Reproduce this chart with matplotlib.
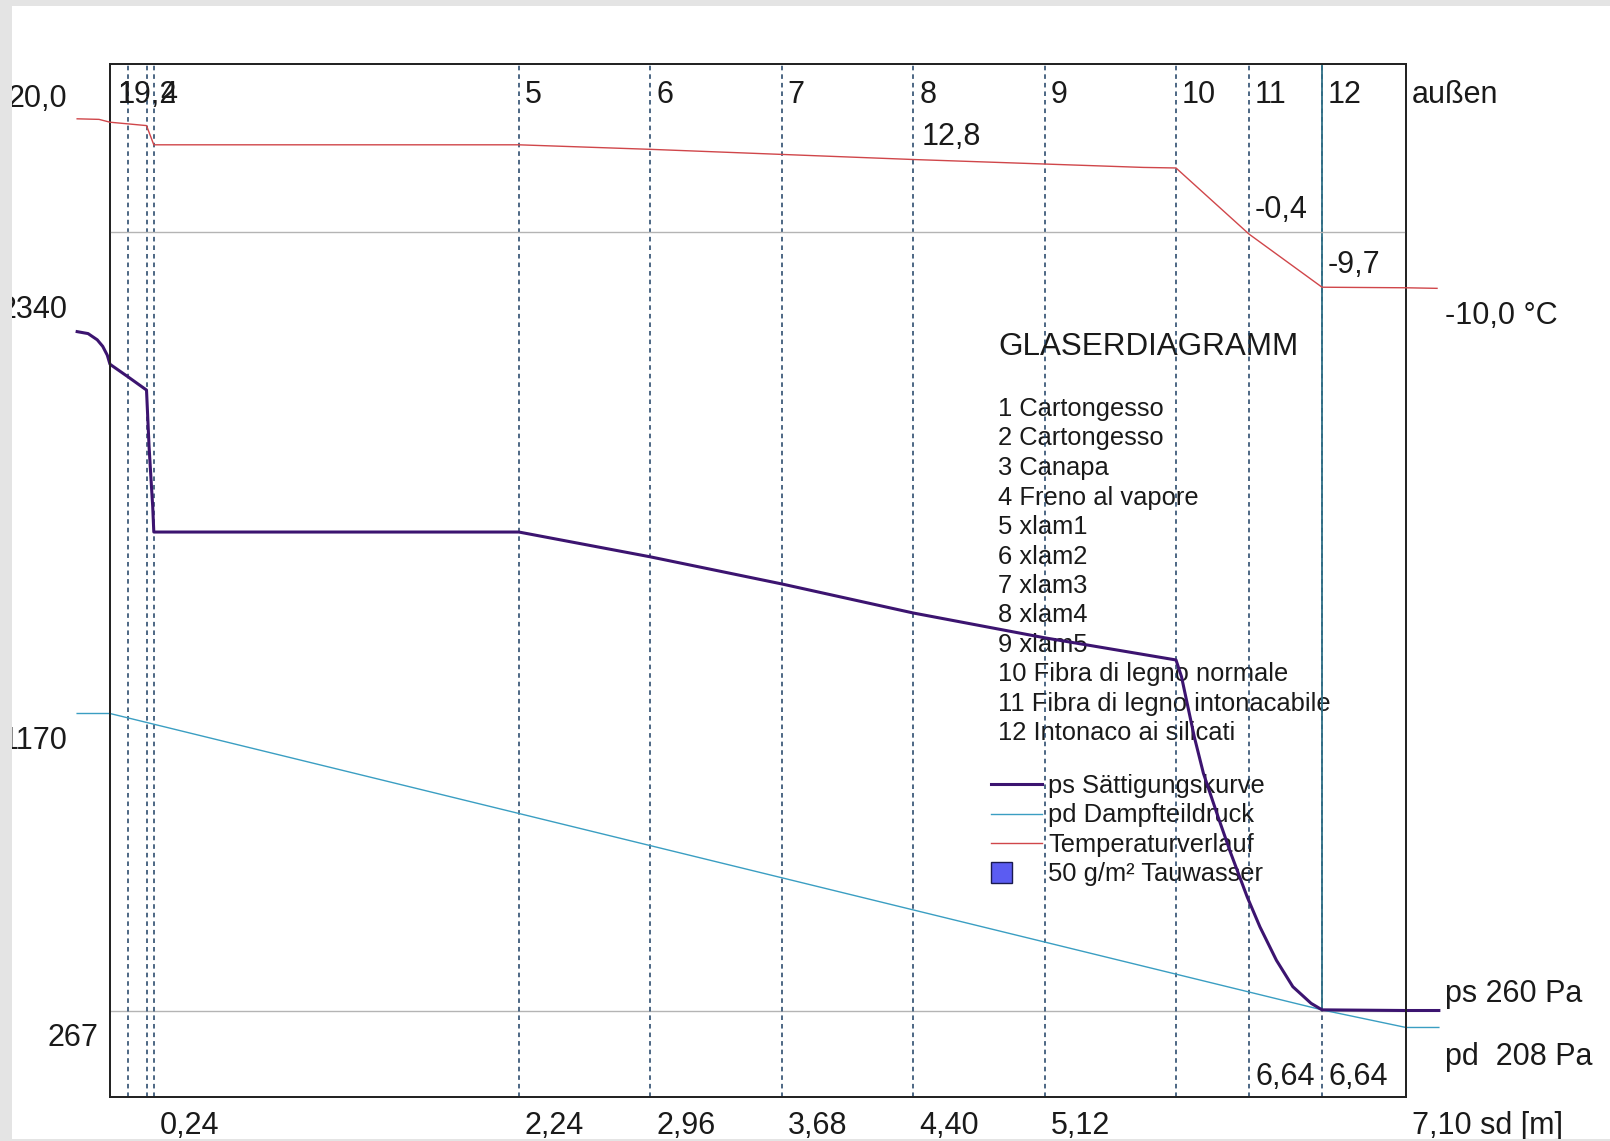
import matplotlib
matplotlib.use("Agg")
import matplotlib.pyplot as plt
import matplotlib.patches as mpatches
from matplotlib.lines import Line2D
from matplotlib.legend_handler import HandlerPatch

plt.rcParams['font.family'] = ['Liberation Sans', 'DejaVu Sans']

# --- data ----------------------------------------------------------------
# layer boundaries in sd [m]
layer_bounds = [0.10, 0.20, 0.24, 2.24, 2.96, 3.68, 4.40, 5.12, 5.84, 6.24, 6.64]
layer_names = ["Cartongesso", "Cartongesso", "Canapa", "Freno al vapore",
               "xlam1", "xlam2", "xlam3", "xlam4", "xlam5",
               "Fibra di legno normale", "Fibra di legno intonacabile",
               "Intonaco ai silicati"]
sd_total = 7.10

# temperature profile [°C]
temp_x = [-0.18, -0.06, 0.0, 0.10, 0.20, 0.24, 2.24, 2.96, 3.68, 4.40, 5.12,
          5.66, 5.84, 6.24, 6.64, 7.10, 7.27]
temp_y = [20.0, 19.9, 19.4, 19.1, 18.8, 15.4, 15.4, 14.6, 13.7, 12.8, 12.0,
          11.4, 11.3, -0.4, -9.8, -9.9, -10.0]

# saturation pressure ps [Pa]
ps_x = [-0.18, -0.12, -0.07, -0.04, -0.015, 0.0, 0.10, 0.20, 0.214, 0.225,
        0.234, 0.24, 2.24, 2.96, 3.68, 4.40, 5.12, 5.84, 5.87, 5.94, 5.99,
        6.07, 6.14, 6.23, 6.30, 6.39, 6.48, 6.58, 6.64, 7.10, 7.28]
ps_y = [2340, 2334, 2315, 2295, 2268, 2240, 2201, 2161, 1988, 1885,
        1804, 1726, 1726, 1650, 1567, 1478, 1402, 1334, 1283, 1099, 987,
        854, 742, 608, 516, 414, 333, 282, 262, 260, 260]

# vapour partial pressure pd [Pa]
pd_x = [-0.18, 0.0, 6.64, 7.10, 7.28]
pd_y = [1170, 1170, 262, 208, 208]

cond_x = 6.64
cond_p = 262
ref_p = 258      # grey reference line
ref_t = 0.0      # grey 0 °C line

top_labels = ["1", "4", "5", "6", "7", "8", "9", "10", "11", "12", "außen"]
top_label_x = [0.0, 0.24, 2.24, 2.96, 3.68, 4.40, 5.12, 5.84, 6.24, 6.64, 7.10]
bottom_labels = ["0,24", "2,24", "2,96", "3,68", "4,40", "5,12", "7,10 sd [m]"]
bottom_label_x = [0.24, 2.24, 2.96, 3.68, 4.40, 5.12, 7.10]

# --- colours --------------------------------------------------------------
c_ps = '#3c1470'
c_pd = '#3a9ec2'
c_t = '#d0464a'
c_dash = '#1d3f63'
c_grey = '#b4b4b4'
c_text = '#1a1a1a'

W, H = 1610, 1141
fig = plt.figure(figsize=(W / 100, H / 100), dpi=100)
fig.patch.set_facecolor('white')

def fx(px):
    return px / W

def fy(py):
    return 1 - py / H

ax = fig.add_axes([fx(110), fy(1097), (1406 - 110) / W, (1097 - 64) / H])
axT = ax.twinx()
ax.set_xlim(0, sd_total)
ax.set_ylim(-5, 3160)
axT.set_ylim(-153.1, 29.7)
for a in (ax, axT):
    a.set_xticks([])
    a.set_yticks([])
    for s in a.spines.values():
        s.set_linewidth(1.3)
        s.set_color('#222222')
axT.patch.set_visible(False)

# layer boundaries
for xb in layer_bounds:
    ax.axvline(xb, color=c_dash, lw=1.1, ls=(0, (3, 2.6)), zorder=2)
ax.vlines(cond_x, cond_p, ax.get_ylim()[1], color='#2f6f86', lw=1.3, zorder=2)

# reference lines
ax.axhline(ref_p, color=c_grey, lw=1.0, zorder=1.5)
axT.axhline(ref_t, color=c_grey, lw=1.0, zorder=1.5)

# curves
pd_line, = ax.plot(pd_x, pd_y, color=c_pd, lw=1.0, clip_on=False, zorder=3)
ps_line, = ax.plot(ps_x, ps_y, color=c_ps, lw=2.2, clip_on=False, zorder=4)
t_line, = axT.plot(temp_x, temp_y, color=c_t, lw=1.0, clip_on=False, zorder=3)

FS = 22
DY = -4   # small downward shift of all labels
kw = dict(textcoords='offset pixels', annotation_clip=False, va='center',
          fontsize=FS, color=c_text)

# layer numbers along the top
for lab, xv in zip(top_labels, top_label_x):
    off = 8 if xv == 0.0 else 6
    ax.annotate(lab, (xv, 1.0), xycoords=('data', 'axes fraction'),
                xytext=(off, -27 + DY), ha='left', **kw)
ax.annotate("19,2", (0.0, 1.0), xycoords=('data', 'axes fraction'),
            xytext=(8, -27 + DY), ha='left', **kw)

# sd labels along the bottom
for lab, xv in zip(bottom_labels, bottom_label_x):
    ax.annotate(lab, (xv, 0.0), xycoords=('data', 'axes fraction'),
                xytext=(6, -25 + DY), ha='left', **kw)
for xv in (6.24, 6.64):
    ax.annotate("6,64", (xv, 0.0), xycoords=('data', 'axes fraction'),
                xytext=(6, 24 + DY), ha='left', **kw)

# temperature labels
for lab, xv, yv, off, ha in [("20,0", -0.18, 20.0, (-10, 24), 'right'),
                             ("12,8", 4.40, 12.8, (8, 27), 'left'),
                             ("-0,4", 6.24, -0.4, (6, 28), 'left'),
                             ("-9,7", 6.64, -9.7, (6, 26), 'left'),
                             ("-10,0 °C", 7.27, -10.0, (8, -24), 'left')]:
    axT.annotate(lab, (xv, yv), xytext=(off[0], off[1] + DY), ha=ha, **kw)

# pressure labels
for lab, xv, yv, off, ha in [("2340", -0.18, 2340, (-10, 26), 'right'),
                             ("1170", -0.18, 1170, (-10, -23), 'right'),
                             ("267", 0.0, ref_p, (-12, -23), 'right'),
                             ("ps 260 Pa", 7.28, 260, (6, 21), 'left'),
                             ("pd  208 Pa", 7.28, 208, (6, -26), 'left')]:
    ax.annotate(lab, (xv, yv), xytext=(off[0], off[1] + DY), ha=ha, **kw)

# legend block
ax.text(fx(998), fy(347), "GLASERDIAGRAMM", transform=fig.transFigure,
        fontsize=22.6, color=c_text, va='center', ha='left', zorder=1)
for i, name in enumerate(layer_names):
    ax.text(fx(998), fy(409 + i * 29.5), f"{i + 1} {name}",
            transform=fig.transFigure, fontsize=18.4, color=c_text,
            va='center', ha='left', zorder=1)


class SquareHandler(HandlerPatch):
    def create_artists(self, legend, orig_handle, xdescent, ydescent,
                       width, height, fontsize, trans):
        side = 15
        p = mpatches.Rectangle((-xdescent, -ydescent + (height - side) / 2),
                               side, side, facecolor='#5b5cf2',
                               edgecolor='#1a1a50', lw=1.0, transform=trans)
        return [p]


sq = mpatches.Patch(facecolor='#5b5cf2', edgecolor='#1a1a50')
leg_handles = [Line2D([], [], color=c_ps, lw=2.2),
               Line2D([], [], color=c_pd, lw=1.0),
               Line2D([], [], color=c_t, lw=1.0),
               sq]
leg_labels = ["ps Sättigungskurve", "pd Dampfteildruck",
              "Temperaturverlauf", "50 g/m² Tauwasser"]
leg = ax.legend(leg_handles, leg_labels, loc='upper left',
                bbox_to_anchor=(fx(991), fy(774)), bbox_transform=fig.transFigure,
                frameon=False, fontsize=18.4, handlelength=2.0,
                handletextpad=0.25, labelspacing=0.215, borderpad=0,
                borderaxespad=0, handler_map={sq: SquareHandler()})
for t in leg.get_texts():
    t.set_color(c_text)
leg.set_zorder(1)

# grey window frame around the picture
for (x0, y0, w, h) in [(0, 0, 12, H), (0, 0, W, 6), (0, H - 2, W, 2)]:
    fig.patches.append(mpatches.Rectangle((fx(x0), fy(y0 + h)), w / W, h / H,
                                          transform=fig.transFigure,
                                          facecolor='#e4e4e4', edgecolor='none',
                                          zorder=10))

fig.savefig("out.png", dpi=100, facecolor=fig.get_facecolor())
